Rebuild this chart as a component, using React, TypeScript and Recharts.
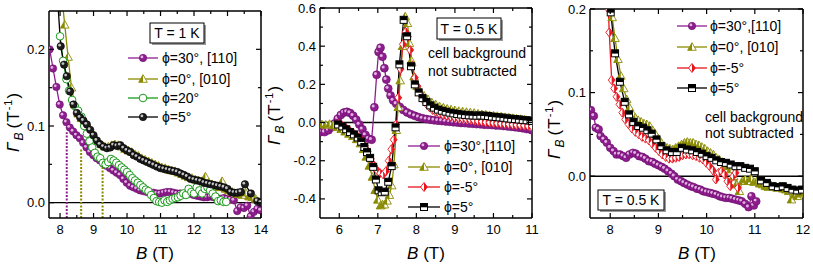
import React from 'react';
import { LineChart, Line, XAxis, YAxis, ReferenceLine } from 'recharts';

type Pt = [number, number];

// ---- panel 1 : T = 1 K ----
const p1Phi30: Pt[] = [
  [7.69, 0.2], [7.79, 0.175], [7.89, 0.151], [7.99, 0.128], [8.09, 0.114], [8.19, 0.105], [8.29, 0.098],
  [8.39, 0.093], [8.49, 0.088], [8.59, 0.084], [8.69, 0.078], [8.79, 0.072], [8.89, 0.066], [8.99, 0.062],
  [9.09, 0.058], [9.19, 0.055], [9.29, 0.051], [9.39, 0.048], [9.49, 0.045], [9.59, 0.042], [9.69, 0.039],
  [9.79, 0.036], [9.89, 0.031], [9.99, 0.026], [10.09, 0.022], [10.19, 0.02], [10.29, 0.018], [10.39, 0.016],
  [10.49, 0.015], [10.59, 0.014], [10.69, 0.013], [10.79, 0.013], [10.89, 0.012], [10.99, 0.012], [11.09, 0.013],
  [11.19, 0.014], [11.29, 0.014], [11.39, 0.013], [11.49, 0.012], [11.59, 0.012], [11.69, 0.011], [11.79, 0.011],
  [11.89, 0.012], [11.99, 0.01], [12.09, 0.009], [12.19, 0.008], [12.29, 0.007], [12.39, 0.007], [12.49, 0.008],
  [12.59, 0.007], [12.69, 0.006], [12.79, 0.005], [12.89, 0.006], [12.99, 0.005], [13.09, 0.004], [13.19, 0.003],
  [13.29, -0.011], [13.39, -0.006], [13.49, -0.007], [13.59, -0.004], [13.69, -0.018], [13.79, -0.012],
  [13.89, -0.008], [13.99, -0.01],
];
const p1Phi0: Pt[] = [
  [8.05, 0.27], [8.14, 0.232], [8.24, 0.19], [8.34, 0.15], [8.44, 0.128], [8.54, 0.116], [8.64, 0.11],
  [8.74, 0.106], [8.84, 0.1], [8.94, 0.093], [9.04, 0.086], [9.14, 0.08], [9.24, 0.076], [9.34, 0.073],
  [9.44, 0.073], [9.54, 0.075], [9.64, 0.076], [9.74, 0.075], [9.84, 0.073], [9.94, 0.07], [10.04, 0.068],
  [10.14, 0.066], [10.24, 0.063], [10.34, 0.061], [10.44, 0.058], [10.54, 0.056], [10.64, 0.054], [10.74, 0.052],
  [10.84, 0.05], [10.94, 0.048], [11.04, 0.046], [11.14, 0.045], [11.24, 0.043], [11.34, 0.042], [11.44, 0.041],
  [11.54, 0.039], [11.64, 0.037], [11.74, 0.035], [11.84, 0.033], [11.94, 0.032], [12.04, 0.03], [12.14, 0.029],
  [12.24, 0.028], [12.34, 0.034], [12.44, 0.026], [12.54, 0.024], [12.64, 0.022], [12.74, 0.02], [12.84, 0.028],
  [12.94, 0.018], [13.04, 0.016], [13.14, 0.014], [13.24, 0.012], [13.34, 0.011], [13.44, 0.01], [13.54, 0.013],
  [13.64, 0.008], [13.74, 0.007], [13.84, 0.005],
];
const p1Phi20: Pt[] = [
  [8.0, 0.217], [8.09, 0.185], [8.19, 0.161], [8.27, 0.146], [8.36, 0.134], [8.44, 0.126], [8.54, 0.12],
  [8.64, 0.112], [8.72, 0.1], [8.8, 0.09], [8.88, 0.08], [8.96, 0.072], [9.04, 0.065], [9.12, 0.06],
  [9.2, 0.058], [9.28, 0.052], [9.36, 0.05], [9.44, 0.053], [9.52, 0.057], [9.6, 0.055], [9.68, 0.052],
  [9.76, 0.049], [9.84, 0.046], [9.92, 0.043], [10.0, 0.04], [10.08, 0.036], [10.16, 0.032], [10.24, 0.029],
  [10.32, 0.026], [10.4, 0.023], [10.48, 0.02], [10.56, 0.017], [10.64, 0.015], [10.72, 0.01], [10.8, 0.006],
  [10.88, 0.002], [10.96, 0.001], [11.04, 0.0], [11.12, 0.003], [11.2, 0.001], [11.28, 0.003], [11.36, 0.005],
  [11.44, 0.006], [11.52, 0.007], [11.6, 0.009], [11.68, 0.012], [11.76, 0.01], [11.84, 0.018], [11.92, 0.014],
  [12.0, 0.012], [12.08, 0.02], [12.16, 0.016], [12.24, 0.012], [12.32, 0.018], [12.4, 0.02], [12.48, 0.016],
  [12.56, 0.012], [12.64, 0.008], [12.72, 0.002], [12.8, 0.003], [12.88, 0.001], [12.96, 0.001],
];
const p1Phi5: Pt[] = [
  [7.92, 0.27], [8.02, 0.204], [8.12, 0.18], [8.2, 0.165], [8.3, 0.145], [8.4, 0.128], [8.5, 0.117],
  [8.6, 0.111], [8.7, 0.107], [8.8, 0.102], [8.9, 0.095], [9.0, 0.088], [9.1, 0.081], [9.2, 0.076],
  [9.3, 0.073], [9.4, 0.071], [9.5, 0.072], [9.6, 0.075], [9.7, 0.074], [9.8, 0.075], [9.9, 0.071],
  [10.0, 0.068], [10.1, 0.066], [10.2, 0.062], [10.3, 0.06], [10.4, 0.057], [10.5, 0.055], [10.6, 0.053],
  [10.7, 0.051], [10.8, 0.049], [10.9, 0.047], [11.0, 0.045], [11.1, 0.044], [11.2, 0.043], [11.3, 0.042],
  [11.4, 0.041], [11.5, 0.04], [11.6, 0.038], [11.7, 0.036], [11.8, 0.034], [11.9, 0.031], [12.0, 0.03],
  [12.1, 0.029], [12.2, 0.028], [12.3, 0.026], [12.4, 0.025], [12.5, 0.024], [12.6, 0.023], [12.7, 0.022],
  [12.8, 0.021], [12.9, 0.02], [13.0, 0.018], [13.1, 0.014], [13.2, 0.013], [13.3, 0.013], [13.4, 0.014],
  [13.52, 0.024], [13.7, 0.012], [13.89, 0.002], [14.0, 0.0],
];
// dotted drop lines (field, top value)
const p1DropB = [8.2, 8.63, 9.27];
const p1DropTop = [0.092, 0.07, 0.053];
const p1XTicks = [8, 8.5, 9, 9.5, 10, 10.5, 11, 11.5, 12, 12.5, 13, 13.5, 14];
const p1YTicks = [0, 0.05, 0.1, 0.15, 0.2];
const p1Labels = ['ϕ=30°, [110]', 'ϕ=0°, [010]', 'ϕ=20°', 'ϕ=5°'];

// ---- panel 2 : T = 0.5 K, background included ----
const p2Phi30: Pt[] = [
  [5.52, -0.05], [5.62, -0.05], [5.72, -0.04], [5.8, -0.025], [5.88, -0.005], [5.96, 0.02], [6.04, 0.04],
  [6.12, 0.052], [6.2, 0.056], [6.28, 0.05], [6.36, 0.036], [6.44, 0.015], [6.52, -0.01], [6.6, -0.035],
  [6.68, -0.065], [6.76, -0.085], [6.84, -0.09], [6.91, 0.08], [6.97, 0.25], [7.02, 0.37], [7.07, 0.392],
  [7.12, 0.345], [7.17, 0.285], [7.22, 0.225], [7.27, 0.178], [7.33, 0.142], [7.4, 0.116], [7.48, 0.098],
  [7.57, 0.082], [7.66, 0.066], [7.76, 0.053], [7.86, 0.043], [7.96, 0.035], [8.06, 0.028], [8.16, 0.022],
  [8.26, 0.018], [8.36, 0.015], [8.46, 0.012], [8.56, 0.01], [8.66, 0.008], [8.76, 0.006], [8.86, 0.004],
  [8.96, 0.002], [9.06, 0.0], [9.16, -0.002], [9.26, -0.003], [9.36, -0.005], [9.46, -0.006], [9.56, -0.008],
  [9.66, -0.009], [9.76, -0.011], [9.86, -0.012], [9.96, -0.013], [10.06, -0.015], [10.16, -0.016],
  [10.26, -0.018], [10.36, -0.02], [10.46, -0.022], [10.56, -0.024], [10.66, -0.027], [10.76, -0.03],
  [10.86, -0.034], [10.96, -0.036], [11.0, -0.04],
];
const p2Phi0: Pt[] = [
  [5.55, -0.01], [5.65, -0.012], [5.75, -0.008], [5.85, -0.015], [5.95, -0.025], [6.05, -0.035], [6.15, -0.048],
  [6.25, -0.06], [6.35, -0.072], [6.45, -0.088], [6.55, -0.11], [6.63, -0.14], [6.7, -0.18], [6.78, -0.227],
  [6.86, -0.285], [6.93, -0.355], [7.0, -0.405], [7.07, -0.435], [7.12, -0.43], [7.17, -0.43], [7.24, -0.41],
  [7.3, -0.38], [7.36, -0.33], [7.42, -0.22], [7.48, -0.04], [7.53, 0.08], [7.58, 0.22], [7.64, 0.4],
  [7.71, 0.555], [7.77, 0.52], [7.82, 0.415], [7.87, 0.325], [7.94, 0.24], [8.02, 0.19], [8.1, 0.16],
  [8.2, 0.14], [8.3, 0.122], [8.4, 0.105], [8.5, 0.095], [8.6, 0.085], [8.7, 0.078], [8.8, 0.072],
  [8.9, 0.068], [9.0, 0.064], [9.1, 0.06], [9.2, 0.058], [9.3, 0.055], [9.4, 0.053], [9.5, 0.05],
  [9.6, 0.046], [9.7, 0.043], [9.8, 0.041], [9.9, 0.038], [10.0, 0.036], [10.1, 0.034], [10.2, 0.031],
  [10.3, 0.028], [10.4, 0.026], [10.5, 0.023], [10.6, 0.02], [10.7, 0.018], [10.8, 0.015], [10.9, 0.011],
  [11.0, 0.008],
];
const p2PhiM5: Pt[] = [
  [5.98, -0.008], [6.08, -0.018], [6.18, -0.03], [6.28, -0.045], [6.38, -0.06], [6.48, -0.075], [6.58, -0.095],
  [6.66, -0.12], [6.74, -0.15], [6.82, -0.19], [6.9, -0.225], [6.98, -0.25], [7.06, -0.265], [7.14, -0.272],
  [7.21, -0.255], [7.28, -0.2], [7.35, -0.14], [7.41, -0.09], [7.47, -0.01], [7.53, 0.13], [7.59, 0.28],
  [7.65, 0.41], [7.72, 0.475], [7.78, 0.45], [7.84, 0.38], [7.9, 0.3], [7.96, 0.235], [8.03, 0.19],
  [8.1, 0.15], [8.18, 0.12], [8.26, 0.098], [8.34, 0.08], [8.42, 0.066], [8.5, 0.056], [8.6, 0.047],
  [8.7, 0.04], [8.8, 0.035], [8.9, 0.03], [9.0, 0.026], [9.1, 0.023], [9.2, 0.02], [9.3, 0.017],
  [9.4, 0.014], [9.5, 0.011], [9.6, 0.008], [9.7, 0.005], [9.8, 0.002], [9.9, 0.0], [10.0, -0.002],
  [10.1, -0.004], [10.2, -0.006], [10.3, -0.008], [10.4, -0.009], [10.5, -0.011], [10.6, -0.013],
  [10.7, -0.014], [10.8, -0.016], [10.9, -0.018], [11.0, -0.02],
];
const p2Phi5: Pt[] = [
  [5.97, -0.01], [6.08, -0.02], [6.18, -0.035], [6.28, -0.05], [6.38, -0.062], [6.48, -0.078], [6.57, -0.1],
  [6.65, -0.128], [6.72, -0.155], [6.8, -0.185], [6.88, -0.232], [6.95, -0.298], [7.02, -0.355], [7.1, -0.365],
  [7.18, -0.362], [7.27, -0.31], [7.36, -0.228], [7.46, -0.025], [7.56, 0.305], [7.67, 0.538], [7.76, 0.452],
  [7.86, 0.295], [7.96, 0.2], [8.06, 0.158], [8.16, 0.128], [8.26, 0.108], [8.36, 0.09], [8.46, 0.078],
  [8.56, 0.068], [8.66, 0.062], [8.76, 0.057], [8.86, 0.052], [8.96, 0.048], [9.06, 0.045], [9.16, 0.042],
  [9.26, 0.04], [9.36, 0.038], [9.46, 0.037], [9.56, 0.036], [9.66, 0.037], [9.76, 0.036], [9.86, 0.034],
  [9.96, 0.031], [10.06, 0.029], [10.16, 0.027], [10.26, 0.025], [10.36, 0.022], [10.46, 0.02],
  [10.56, 0.018], [10.66, 0.016], [10.76, 0.014], [10.86, 0.012], [10.96, 0.01], [11.0, 0.008],
];
const p2XTicks = [6, 6.5, 7, 7.5, 8, 8.5, 9, 9.5, 10, 10.5, 11];
const p2YTicks = [-0.4, -0.3, -0.2, -0.1, 0, 0.1, 0.2, 0.3, 0.4, 0.5, 0.6];
const p2Labels = ['ϕ=30°,[110]', 'ϕ=0°, [010]', 'ϕ=-5°', 'ϕ=5°'];

// ---- panel 3 : T = 0.5 K ----
const p3Phi30: Pt[] = [
  [7.6, 0.079], [7.66, 0.072], [7.7, 0.058], [7.76, 0.056], [7.8, 0.048], [7.87, 0.044], [7.93, 0.04],
  [8.0, 0.034], [8.07, 0.03], [8.13, 0.026], [8.2, 0.026], [8.27, 0.024], [8.33, 0.022], [8.4, 0.026],
  [8.47, 0.028], [8.53, 0.027], [8.6, 0.024], [8.67, 0.023], [8.73, 0.021], [8.8, 0.018], [8.87, 0.017],
  [8.93, 0.015], [9.0, 0.013], [9.07, 0.011], [9.13, 0.009], [9.2, 0.006], [9.27, 0.003], [9.33, 0.0],
  [9.4, -0.004], [9.47, -0.006], [9.53, -0.008], [9.6, -0.01], [9.67, -0.012], [9.73, -0.013], [9.8, -0.015],
  [9.87, -0.016], [9.93, -0.018], [10.0, -0.019], [10.07, -0.02], [10.13, -0.021], [10.2, -0.022],
  [10.27, -0.024], [10.33, -0.025], [10.4, -0.026], [10.47, -0.026], [10.53, -0.027], [10.6, -0.028],
  [10.67, -0.029], [10.73, -0.03], [10.8, -0.033], [10.87, -0.037], [10.93, -0.024], [10.98, -0.035],
  [11.03, -0.03],
];
const p3Phi0: Pt[] = [
  [7.97, 0.215], [8.04, 0.19], [8.1, 0.165], [8.16, 0.14], [8.22, 0.12], [8.28, 0.105], [8.34, 0.092],
  [8.4, 0.082], [8.46, 0.075], [8.52, 0.07], [8.58, 0.067], [8.64, 0.065], [8.7, 0.063], [8.76, 0.062],
  [8.82, 0.06], [8.88, 0.055], [8.94, 0.05], [9.0, 0.045], [9.06, 0.04], [9.12, 0.036], [9.18, 0.034],
  [9.24, 0.033], [9.3, 0.032], [9.36, 0.034], [9.42, 0.036], [9.48, 0.038], [9.54, 0.04], [9.6, 0.041],
  [9.66, 0.04], [9.72, 0.04], [9.78, 0.038], [9.84, 0.037], [9.9, 0.035], [9.96, 0.033], [10.02, 0.03],
  [10.08, 0.028], [10.14, 0.026], [10.2, 0.022], [10.26, 0.02], [10.32, 0.017], [10.38, 0.014], [10.44, 0.012],
  [10.5, 0.008], [10.56, 0.0], [10.62, -0.01], [10.68, -0.018], [10.74, -0.006], [10.8, -0.004], [10.86, -0.006],
  [10.92, -0.003], [10.98, -0.007], [11.04, -0.006], [11.1, -0.009], [11.16, -0.01], [11.22, -0.012],
  [11.28, -0.013], [11.34, -0.011], [11.4, -0.012], [11.46, -0.014], [11.52, -0.013], [11.58, -0.015],
  [11.64, -0.016], [11.7, -0.018], [11.76, -0.028], [11.82, -0.022], [11.88, -0.024], [11.94, -0.021],
  [12.0, -0.02],
];
const p3PhiM5: Pt[] = [
  [7.96, 0.2], [7.98, 0.172], [8.03, 0.115], [8.08, 0.105], [8.13, 0.095], [8.19, 0.086], [8.25, 0.076],
  [8.31, 0.068], [8.38, 0.062], [8.45, 0.057], [8.52, 0.053], [8.59, 0.05], [8.66, 0.047], [8.73, 0.045],
  [8.8, 0.043], [8.87, 0.039], [8.94, 0.034], [9.01, 0.03], [9.08, 0.026], [9.15, 0.023], [9.22, 0.021],
  [9.29, 0.021], [9.36, 0.022], [9.43, 0.023], [9.5, 0.025], [9.57, 0.026], [9.64, 0.026], [9.71, 0.025],
  [9.78, 0.024], [9.85, 0.022], [9.92, 0.02], [9.99, 0.016], [10.06, 0.012], [10.13, 0.007], [10.19, -0.004],
  [10.25, 0.004], [10.31, 0.006], [10.37, 0.002], [10.43, -0.006], [10.49, -0.012], [10.55, 0.0],
  [10.6, 0.004], [10.65, -0.014],
];
const p3Phi5: Pt[] = [
  [7.97, 0.22], [8.01, 0.196], [8.1, 0.147], [8.2, 0.113], [8.3, 0.089], [8.39, 0.074], [8.48, 0.065],
  [8.58, 0.06], [8.68, 0.058], [8.77, 0.055], [8.86, 0.051], [8.96, 0.044], [9.06, 0.036], [9.17, 0.031],
  [9.28, 0.029], [9.38, 0.029], [9.49, 0.034], [9.59, 0.032], [9.7, 0.031], [9.8, 0.029], [9.9, 0.027],
  [10.0, 0.024], [10.1, 0.022], [10.2, 0.019], [10.3, 0.017], [10.4, 0.016], [10.5, 0.014], [10.6, 0.012],
  [10.7, 0.012], [10.8, 0.01], [10.9, 0.009], [11.0, 0.006], [11.13, -0.005], [11.25, -0.008], [11.37, -0.012],
  [11.48, -0.013], [11.58, -0.012], [11.68, -0.014], [11.78, -0.016], [11.88, -0.017], [11.98, -0.016],
];
const p3XTicks = [8, 8.5, 9, 9.5, 10, 10.5, 11, 11.5, 12];
const p3YTicks = [0, 0.05, 0.1, 0.15, 0.2];
const p3Labels = ['ϕ=30°,[110]', 'ϕ=0°, [010]', 'ϕ=-5°', 'ϕ=5°'];

const PURPLE = '#8e1e8e';
const OLIVE = '#8a8a00';
const GREEN = '#1a9a1a';
const RED = '#e8141e';
const BLACK = '#000';
const FONT = '"Liberation Sans", Arial, sans-serif';

type Shape = 'purple' | 'olive' | 'green' | 'black' | 'red' | 'square';

const rows = (pts: Pt[]) => pts.map(([b, g]) => ({ b, g }));

function marker(shape: Shape, cx: number, cy: number, key?: string, r = 3.7) {
  switch (shape) {
    case 'purple':
    case 'black': {
      const fill = shape === 'purple' ? PURPLE : '#1c1c1c';
      const hl = shape === 'purple' ? '#e2b2e2' : '#c4c4c4';
      return (
        <g key={key}>
          <circle cx={cx} cy={cy} r={r} fill={fill} stroke={shape === 'purple' ? '#6a0e6a' : '#000'} strokeWidth={0.6} />
          <circle cx={cx - r * 0.3} cy={cy - r * 0.3} r={r * 0.38} fill={hl} />
        </g>
      );
    }
    case 'green':
      return <circle key={key} cx={cx} cy={cy} r={3.8} fill="#fff" stroke={GREEN} strokeWidth={1} />;
    case 'olive':
      return (
        <g key={key}>
          <polygon points={`${cx},${cy - 4.3} ${cx + 4.3},${cy + 3.3} ${cx - 4.3},${cy + 3.3}`} fill="#fff" stroke={OLIVE} strokeWidth={0.9} />
          <polygon points={`${cx},${cy - 4.3} ${cx},${cy + 3.3} ${cx - 4.3},${cy + 3.3}`} fill={OLIVE} />
        </g>
      );
    case 'red':
      return (
        <g key={key}>
          <polygon points={`${cx},${cy - 4.5} ${cx + 3.4},${cy} ${cx},${cy + 4.5} ${cx - 3.4},${cy}`} fill="#fff" stroke={RED} strokeWidth={0.9} />
          <polygon points={`${cx},${cy - 4.5} ${cx + 3.4},${cy} ${cx},${cy + 4.5}`} fill={RED} />
        </g>
      );
    default:
      return (
        <g key={key}>
          <rect x={cx - 3.5} y={cy - 3.5} width={7} height={7} fill="#fff" stroke="#000" strokeWidth={1} />
          <rect x={cx - 3.5} y={cy - 3.5} width={7} height={3.8} fill="#000" />
        </g>
      );
  }
}

const series = (id: string, pts: Pt[], color: string, shape: Shape, r?: number) => (
  <Line
    key={id}
    xAxisId="b"
    yAxisId="l"
    data={rows(pts)}
    dataKey="g"
    type="linear"
    stroke={color}
    strokeWidth={1.3}
    isAnimationActive={false}
    activeDot={false}
    dot={(p: any) =>
      p.cx == null || p.cy == null ? <g key={`${id}-${p.index}`} /> : marker(shape, p.cx, p.cy, `${id}-${p.index}`, r)
    }
  />
);

const isStep = (v: number, step: number) => Math.abs(v / step - Math.round(v / step)) < 1e-6;

// every axis is mirrored, so the tick's anchor point sits on the frame line
const xTick = (side: 'bottom' | 'top', label: boolean) => (props: any) => {
  const { x, y, payload } = props;
  const v = payload.value as number;
  const major = isStep(v, 1);
  const len = major ? 5 : 3;
  const dir = side === 'bottom' ? -1 : 1;
  return (
    <g>
      <line x1={x} y1={y} x2={x} y2={y + dir * len} stroke="#000" strokeWidth={1.2} />
      {label && major && (
        <text x={x} y={y + 16} textAnchor="middle" fontSize={13} fill="#000">
          {v}
        </text>
      )}
    </g>
  );
};

const yTick = (side: 'left' | 'right', label: boolean, step: number) => (props: any) => {
  const { x, y, payload } = props;
  const v = payload.value as number;
  const major = isStep(v, step);
  const len = major ? 5 : 3;
  const dir = side === 'left' ? 1 : -1;
  return (
    <g>
      <line x1={x} y1={y} x2={x + dir * len} y2={y} stroke="#000" strokeWidth={1.2} />
      {label && major && (
        <text x={x - 4} y={y + 4.5} textAnchor="end" fontSize={13} fill="#000">
          {v.toFixed(1)}
        </text>
      )}
    </g>
  );
};

const frame = { stroke: '#000', strokeWidth: 1.5 };

const Panel = ({ left, margin, xDomain, yDomain, xTicks, yTicks, yStep, children }: any) => (
  <div style={{ position: 'absolute', left, top: 0 }}>
    <LineChart width={271} height={268} margin={margin}>
      <XAxis xAxisId="b" mirror type="number" dataKey="b" domain={xDomain} ticks={xTicks} interval={0} height={20}
        tickSize={0} tickMargin={0} tickLine={false} tick={xTick('bottom', true)} axisLine={frame} allowDataOverflow />
      <XAxis xAxisId="t" mirror orientation="top" type="number" dataKey="b" domain={xDomain} ticks={xTicks} interval={0} height={20}
        tickSize={0} tickMargin={0} tickLine={false} tick={xTick('top', false)} axisLine={frame} allowDataOverflow />
      <YAxis yAxisId="l" mirror type="number" domain={yDomain} ticks={yTicks} interval={0} width={20}
        tickSize={0} tickMargin={0} tickLine={false} tick={yTick('left', true, yStep)} axisLine={frame} allowDataOverflow />
      <YAxis yAxisId="r" mirror orientation="right" type="number" domain={yDomain} ticks={yTicks} interval={0} width={20}
        tickSize={0} tickMargin={0} tickLine={false} tick={yTick('right', false, yStep)} axisLine={frame} allowDataOverflow />
      <ReferenceLine xAxisId="b" yAxisId="l" y={0} stroke="#000" strokeWidth={1.4} />
      {children}
    </LineChart>
  </div>
);

const GammaLabel = ({ x, y }: { x: number; y: number }) => (
  <text transform={`translate(${x},${y}) rotate(-90)`} textAnchor="middle" fontSize={17} fill="#000" letterSpacing={1}>
    <tspan fontStyle="italic">Γ</tspan>
    <tspan fontStyle="italic" fontSize={12} dy={4} dx={1}>B</tspan>
    <tspan dy={-4} dx={3}>(T</tspan>
    <tspan fontSize={11} dy={-7}>-1</tspan>
    <tspan dy={7}>)</tspan>
  </text>
);

const BLabel = ({ x }: { x: number }) => (
  <text x={x} y={259} textAnchor="middle" fontSize={17} fill="#000">
    <tspan fontStyle="italic">B</tspan>
    {' (T)'}
  </text>
);

const TBox = ({ x, y, w, h, text }: any) => (
  <g>
    <rect x={x + 2} y={y + 2} width={w} height={h} fill="#9a9a9a" />
    <rect x={x} y={y} width={w} height={h} fill="#fff" stroke="#000" strokeWidth={1} />
    <text x={x + w / 2} y={y + h / 2 + 5} textAnchor="middle" fontSize={14} fill="#000">{text}</text>
  </g>
);

const LegendBlock = ({ x1, x2, tx, ys, labels, colors, shapes }: any) => (
  <g>
    {labels.map((lab: string, i: number) => (
      <g key={lab}>
        <line x1={x1} x2={x2} y1={ys[i]} y2={ys[i]} stroke={colors[i]} strokeWidth={1.3} />
        {marker(shapes[i], (x1 + x2) / 2, ys[i], undefined, 3.7)}
        <text x={tx} y={ys[i] + 5} fontSize={14} fill="#000">{lab}</text>
      </g>
    ))}
  </g>
);

export default function App() {
  return (
    <div style={{ position: 'absolute', left: 0, top: 0, width: 813, height: 268, background: '#fff', fontFamily: FONT }}>
      <Panel left={0} margin={{ top: 11, right: 10, bottom: 50, left: 49 }} xDomain={[7.67, 14]} yDomain={[-0.02, 0.25]}
        xTicks={p1XTicks} yTicks={p1YTicks} yStep={0.1}>
        {p1DropB.map((b, i) => (
          <ReferenceLine key={`drop-${i}`} xAxisId="b" yAxisId="l" segment={[{ x: b, y: -0.02 }, { x: b, y: p1DropTop[i] }]}
            stroke={i === 0 ? PURPLE : OLIVE} strokeWidth={2} strokeDasharray="2 1.5" />
        ))}
        {series('p1a', p1Phi30, PURPLE, 'purple')}
        {series('p1b', p1Phi0, OLIVE, 'olive')}
        {series('p1c', p1Phi20, GREEN, 'green')}
        {series('p1d', p1Phi5, BLACK, 'black')}
      </Panel>
      <Panel left={271} margin={{ top: 8, right: 10, bottom: 50, left: 49 }} xDomain={[5.5, 11]} yDomain={[-0.5, 0.6]}
        xTicks={p2XTicks} yTicks={p2YTicks} yStep={0.2}>
        {series('p2a', p2Phi30, PURPLE, 'purple', 4)}
        {series('p2b', p2Phi0, OLIVE, 'olive')}
        {series('p2c', p2PhiM5, RED, 'red')}
        {series('p2d', p2Phi5, BLACK, 'square')}
      </Panel>
      <Panel left={542} margin={{ top: 9, right: 10, bottom: 50, left: 48 }} xDomain={[7.58, 12]} yDomain={[-0.05, 0.2]}
        xTicks={p3XTicks} yTicks={p3YTicks} yStep={0.1}>
        {series('p3a', p3Phi30, PURPLE, 'purple', 3.9)}
        {series('p3b', p3Phi0, OLIVE, 'olive')}
        {series('p3c', p3PhiM5, RED, 'red')}
        {series('p3d', p3Phi5, BLACK, 'square')}
      </Panel>
      <svg width={813} height={268} style={{ position: 'absolute', left: 0, top: 0, pointerEvents: 'none' }}>
        <GammaLabel x={19} y={122} />
        <GammaLabel x={280} y={115} />
        <GammaLabel x={560} y={129} />
        <BLabel x={155} />
        <BLabel x={426} />
        <BLabel x={697} />
        <TBox x={150} y={23} w={54} h={20} text="T = 1 K" />
        <LegendBlock x1={128} x2={158} tx={162} ys={[58, 79, 98, 117]} labels={p1Labels}
          colors={[PURPLE, OLIVE, GREEN, BLACK]} shapes={['purple', 'olive', 'green', 'black']} />
        <TBox x={437} y={18} w={64} h={21} text="T = 0.5 K" />
        <text x={428} y={58} fontSize={14} fill="#000">cell background</text>
        <text x={428} y={76} fontSize={14} fill="#000">not subtracted</text>
        <LegendBlock x1={408} x2={440} tx={444} ys={[146, 167, 187, 207]} labels={p2Labels}
          colors={[PURPLE, OLIVE, RED, BLACK]} shapes={['purple', 'olive', 'red', 'square']} />
        <LegendBlock x1={677} x2={707} tx={710} ys={[26, 47, 68, 88]} labels={p3Labels}
          colors={[PURPLE, OLIVE, RED, BLACK]} shapes={['purple', 'olive', 'red', 'square']} />
        <text x={705} y={122} fontSize={14} fill="#000">cell background</text>
        <text x={705} y={138} fontSize={14} fill="#000">not subtracted</text>
        <TBox x={598} y={190} w={66} h={20} text="T = 0.5 K" />
      </svg>
    </div>
  );
}
